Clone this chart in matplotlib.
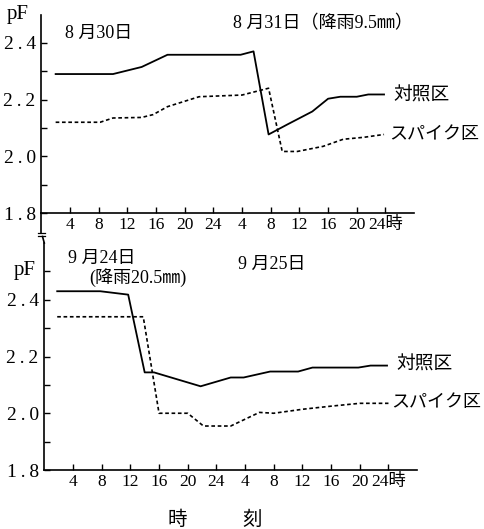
import matplotlib
matplotlib.use("Agg")
import matplotlib.pyplot as plt
from matplotlib.lines import Line2D

plt.rcParams['font.family'] = ['Liberation Serif', 'Noto Sans CJK JP']

# hours from 0:00 of the first day
top_ctrl_h = [2, 10, 14, 17.6, 27.8, 29.6, 31.7, 34.3, 37.8, 40, 41.7, 44, 45.6, 47.8]
top_ctrl_pf = [2.29, 2.29, 2.315, 2.358, 2.358, 2.37, 2.077, 2.112, 2.158, 2.203, 2.21, 2.21, 2.218, 2.218]
top_spk_h = [2, 8.2, 10, 14, 15.6, 17.6, 22, 28, 31.7, 33.6, 35.7, 39.3, 42.1, 45, 47.8]
top_spk_pf = [2.12, 2.12, 2.135, 2.137, 2.147, 2.175, 2.21, 2.216, 2.24, 2.017, 2.017, 2.035, 2.06, 2.067, 2.077]

bot_ctrl_h = [1.8, 7.8, 11.7, 14, 15.3, 21.8, 26, 27.8, 31.5, 35.4, 37.4, 43.8, 45.5, 47.8]
bot_ctrl_pf = [2.43, 2.43, 2.418, 2.144, 2.144, 2.095, 2.126, 2.126, 2.147, 2.147, 2.161, 2.161, 2.168, 2.168]
bot_spk_h = [1.8, 13.8, 16, 20, 22.2, 26, 30, 32, 36, 40, 44, 48]
bot_spk_pf = [2.34, 2.34, 2.0, 2.0, 1.955, 1.955, 2.003, 2.0, 2.014, 2.025, 2.035, 2.035]

xticks = [4, 8, 12, 16, 20, 24, 28, 32, 36, 40, 44, 48]
xticklabels = ["4", "8", "12", "16", "20", "24", "4", "8", "12", "16", "20", "24時"]
yticks = [1.8, 2.0, 2.2, 2.4]
yticklabels = ["1\u2009.\u20098", "2\u2009.\u20090", "2\u2009.\u20092", "2\u2009.\u20094"]

W, H = 485, 529
fig = plt.figure(figsize=(W / 100, H / 100), dpi=100)


def px_axes(x0, y_top, x1, y_bot):
    return fig.add_axes([x0 / W, 1 - y_bot / H, (x1 - x0) / W, (y_bot - y_top) / H])


def style(ax, ymax, minors):
    ax.set_xlim(0, 52)
    ax.set_ylim(1.8, ymax)
    for s in ["top", "right"]:
        ax.spines[s].set_visible(False)
    for s in ["left", "bottom"]:
        ax.spines[s].set_linewidth(1.2)
    ax.set_xticks(xticks)
    ax.set_xticklabels(xticklabels, fontsize=12.5)
    ax.set_yticks(yticks)
    ax.set_yticklabels(yticklabels, fontsize=14)
    ax.set_yticks(minors, minor=True)
    ax.tick_params(direction="in", length=4, width=1, pad=3)
    ax.tick_params(axis="y", which="major", pad=4)
    ax.tick_params(axis="y", which="minor", direction="in", length=4, width=1)
    ax.patch.set_alpha(0)


ls_dash = (0, (2.2, 1.6))
top = px_axes(41.3, 14.5, 41.3 + 52 * 7.17, 213)
style(top, 2.5, [1.9, 2.1, 2.3])
top.plot(top_ctrl_h, top_ctrl_pf, color="black", lw=1.3)
top.plot(top_spk_h, top_spk_pf, color="black", lw=1.2, linestyle=ls_dash)

bot = px_axes(44.3, 243, 44.3 + 52 * 7.17, 470)
style(bot, 2.6, [1.9, 2.1, 2.3, 2.5])
bot.plot(bot_ctrl_h, bot_ctrl_pf, color="black", lw=1.3)
bot.plot(bot_spk_h, bot_spk_pf, color="black", lw=1.2, linestyle=ls_dash)

# axis break between the panels
def fl(xs, ys, lw=1.2):
    fig.add_artist(Line2D([x / W for x in xs], [1 - y / H for y in ys],
                          color="black", lw=lw, transform=fig.transFigure))

fl([41.3, 41.3], [213, 233])
fl([38, 45], [233, 233], 0.9)
fl([38, 45], [236.5, 236.5], 0.9)
fl([42.5, 44.3], [236.5, 243])

# texts
def ft(x, y, s, size=12, ha="left"):
    fig.text(x / W, 1 - y / H, s, fontsize=size, ha=ha, va="center")

ft(7, 15, "pF", 15)
ft(65, 33, "8 月30日", 13)
ft(233, 24, "8 月31日（降雨9.5㎜）", 13)
ft(393, 96, "対照区", 13.5)
ft(389, 135, "スパイク区", 13)

ft(14, 271, "pF", 15)
ft(68, 258, "9 月24日", 13)
ft(89, 278, "(降雨20.5㎜)", 13)
ft(238, 264, "9 月25日", 13)
ft(396, 365, "対照区", 13.5)
ft(391, 403, "スパイク区", 13)

ft(177, 520, "時", 14, ha="center")
ft(252, 520, "刻", 14, ha="center")

fig.savefig("out.png", dpi=100)
